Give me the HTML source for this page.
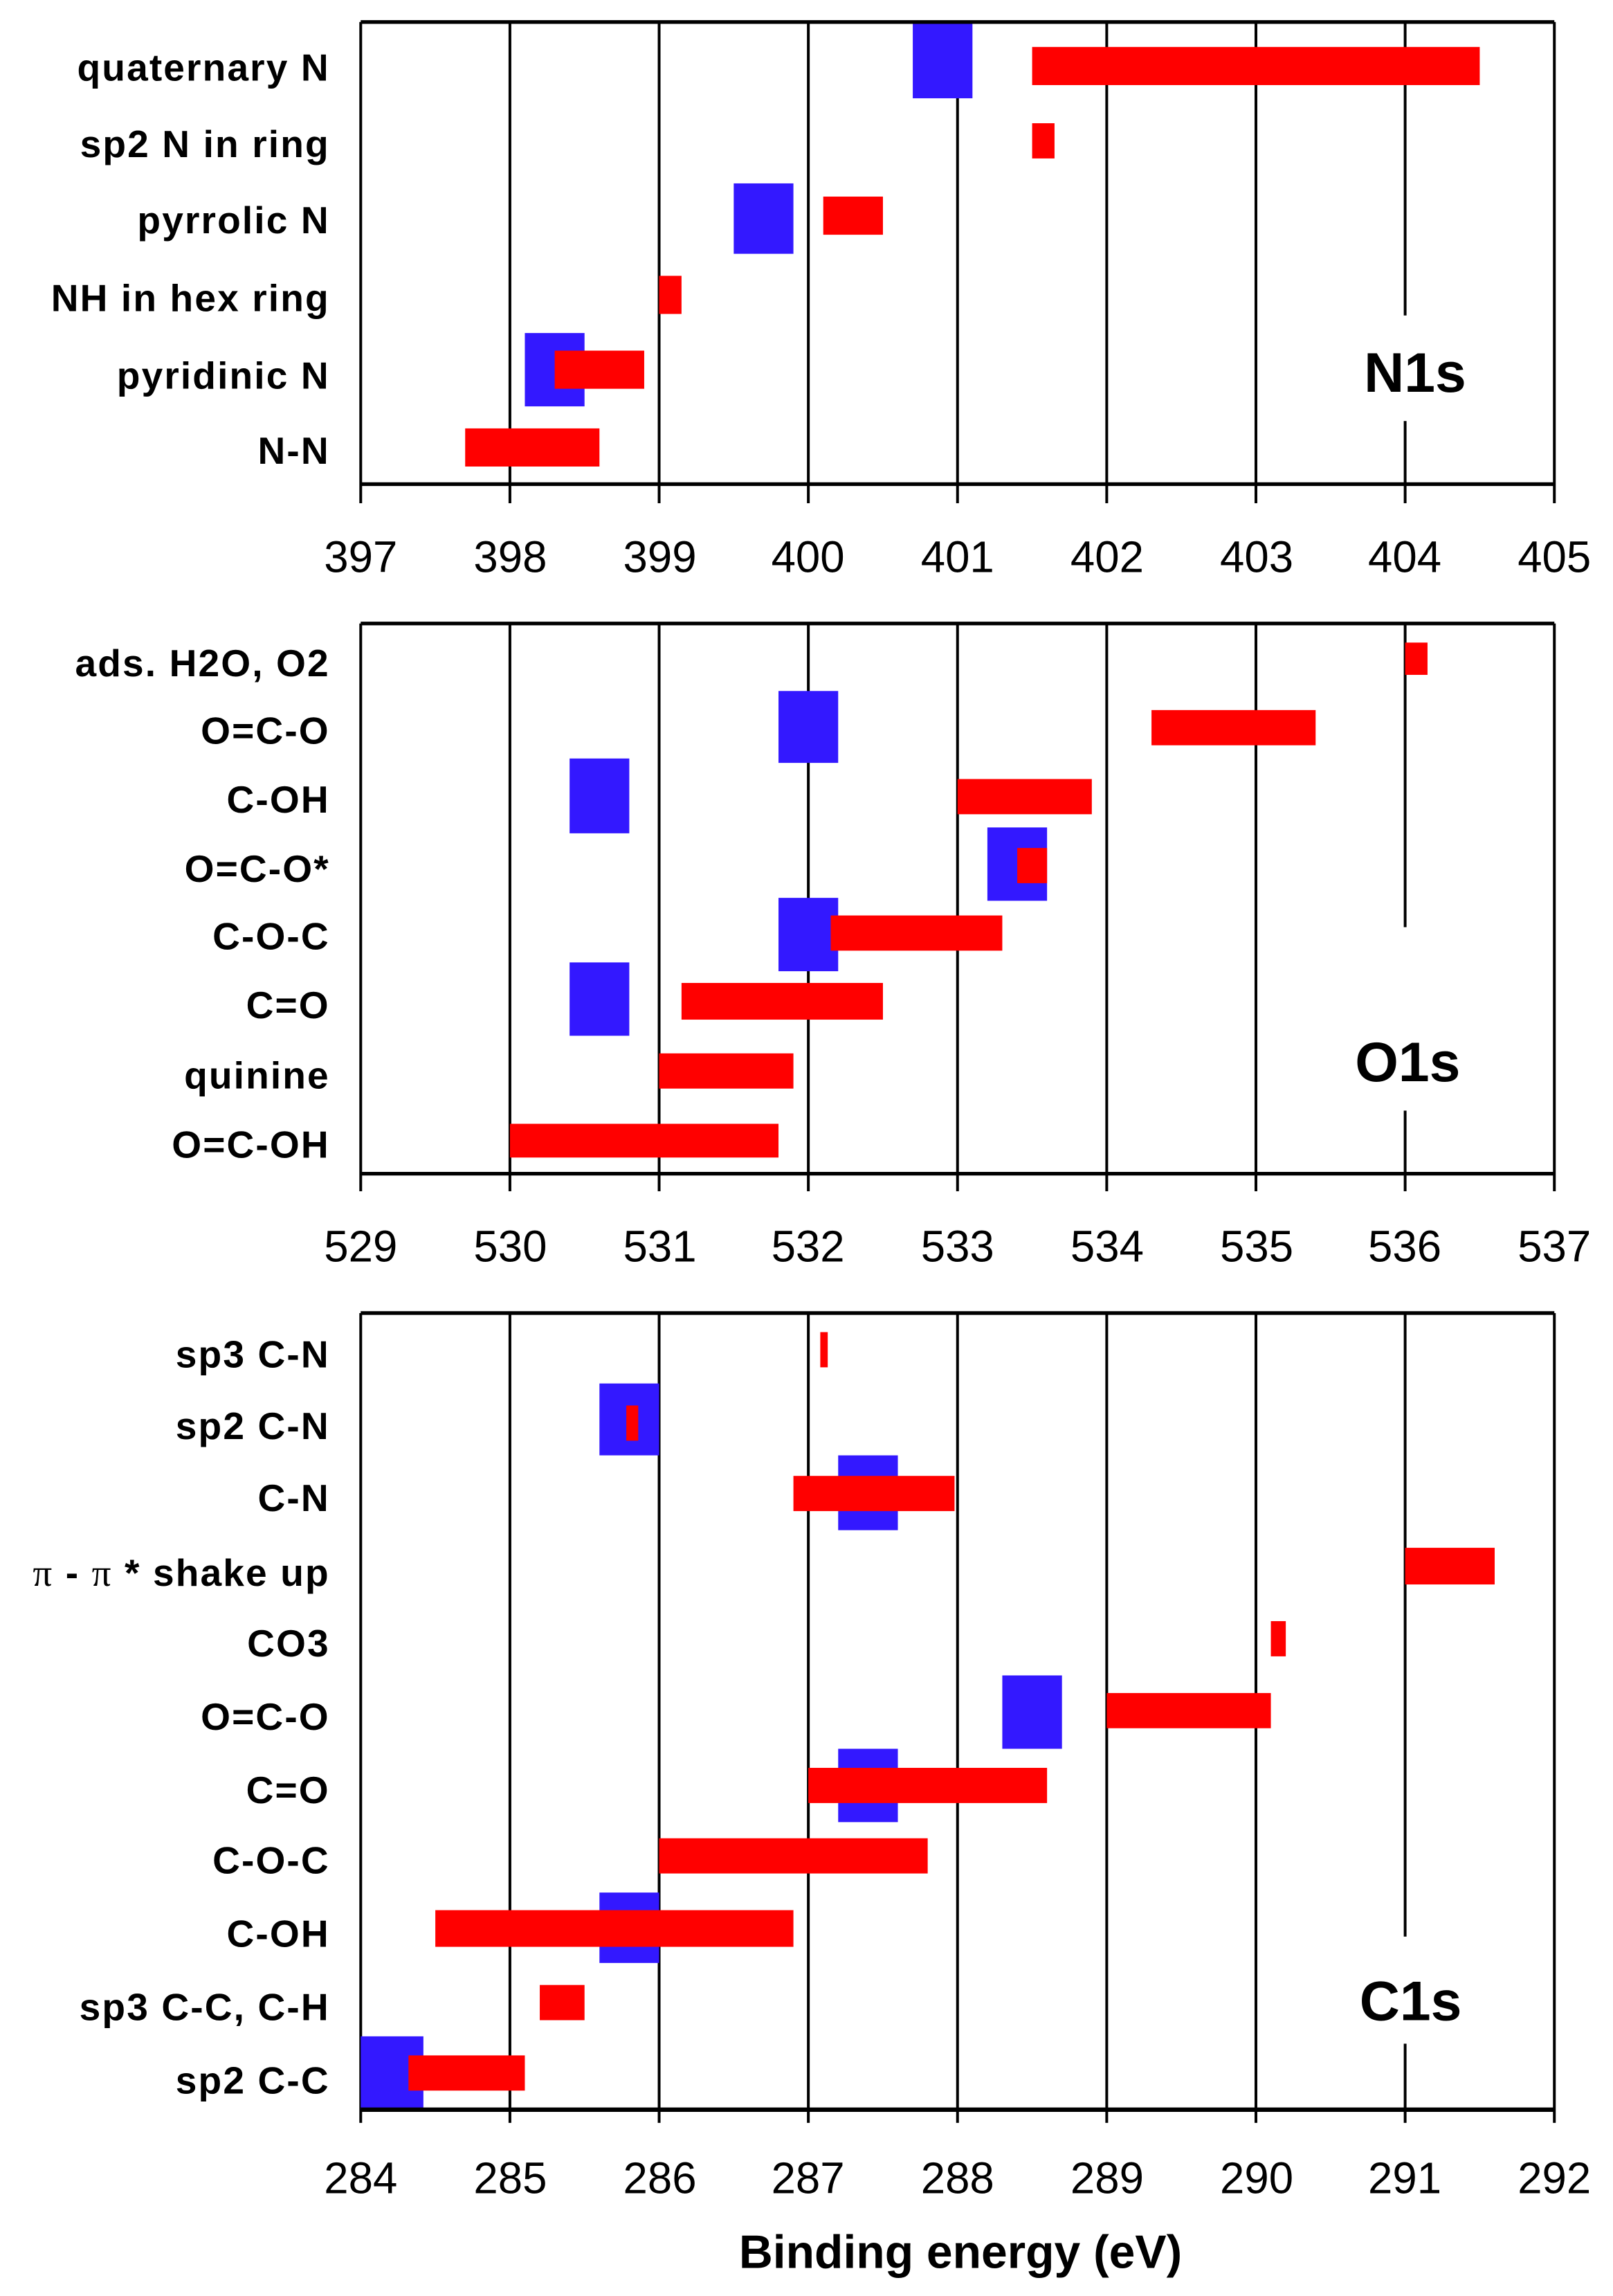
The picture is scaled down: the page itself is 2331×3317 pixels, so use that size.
<!DOCTYPE html>
<html><head><meta charset="utf-8"><style>
html,body{margin:0;padding:0;background:#fff;}
svg{display:block;}
text{font-family:"Liberation Sans",Arial,sans-serif;}
.lab{font-size:26px;font-weight:bold;text-anchor:end;letter-spacing:1px;}
.tk{font-size:30px;text-anchor:middle;}
.big{font-size:38px;font-weight:bold;text-anchor:middle;}
.g line{stroke:#000;stroke-width:4;}
</style></head><body>
<svg width="2331" height="3317" viewBox="0 0 1100 1565" preserveAspectRatio="none" xmlns="http://www.w3.org/2000/svg">
<rect width="1100" height="1565" fill="#fff"/>

<!-- N1s -->
<g transform="translate(246,0) scale(101.75,1)">
  <g class="g">
    <line x1="0" y1="15" x2="0" y2="343" vector-effect="non-scaling-stroke"/>
    <line x1="1" y1="15" x2="1" y2="343" vector-effect="non-scaling-stroke"/>
    <line x1="2" y1="15" x2="2" y2="343" vector-effect="non-scaling-stroke"/>
    <line x1="3" y1="15" x2="3" y2="343" vector-effect="non-scaling-stroke"/>
    <line x1="4" y1="15" x2="4" y2="343" vector-effect="non-scaling-stroke"/>
    <line x1="5" y1="15" x2="5" y2="343" vector-effect="non-scaling-stroke"/>
    <line x1="6" y1="15" x2="6" y2="343" vector-effect="non-scaling-stroke"/>
    <line x1="7" y1="15" x2="7" y2="215" vector-effect="non-scaling-stroke"/>
    <line x1="7" y1="287" x2="7" y2="343" vector-effect="non-scaling-stroke"/>
    <line x1="8" y1="15" x2="8" y2="343" vector-effect="non-scaling-stroke"/>
  </g>
  <rect x="3.7" y="15" width="0.4" height="52" fill="#3318ff"/>
  <rect x="4.5" y="32" width="3.0" height="26" fill="#f00"/>
  <rect x="4.5" y="84" width="0.15" height="24" fill="#f00"/>
  <rect x="2.5" y="125" width="0.4" height="48" fill="#3318ff"/>
  <rect x="3.1" y="134" width="0.4" height="26" fill="#f00"/>
  <rect x="2.0" y="188" width="0.15" height="26" fill="#f00"/>
  <rect x="1.1" y="227" width="0.4" height="50" fill="#3318ff"/>
  <rect x="1.3" y="239" width="0.6" height="26" fill="#f00"/>
  <rect x="0.7" y="292" width="0.9" height="26" fill="#f00"/>
</g>
<line x1="246" y1="15" x2="1060" y2="15" stroke="#000" stroke-width="2.5"/>
<line x1="246" y1="330" x2="1060" y2="330" stroke="#000" stroke-width="2.5"/>
<g class="lab">
<text x="225" y="55">quaternary  N</text>
<text x="225" y="107">sp2 N in ring</text>
<text x="225" y="159">pyrrolic N</text>
<text x="225" y="212">NH in hex ring</text>
<text x="225" y="265">pyridinic N</text>
<text x="225" y="316">N-N</text>
</g>
<g class="tk">
<text x="246" y="390">397</text><text x="348" y="390">398</text><text x="450" y="390">399</text>
<text x="551" y="390">400</text><text x="653" y="390">401</text><text x="755" y="390">402</text>
<text x="857" y="390">403</text><text x="958" y="390">404</text><text x="1060" y="390">405</text>
</g>
<text class="big" x="965" y="267">N1s</text>

<!-- O1s -->
<g transform="translate(246,0) scale(101.75,1)">
  <g class="g">
    <line x1="0" y1="425" x2="0" y2="812" vector-effect="non-scaling-stroke"/>
    <line x1="1" y1="425" x2="1" y2="812" vector-effect="non-scaling-stroke"/>
    <line x1="2" y1="425" x2="2" y2="812" vector-effect="non-scaling-stroke"/>
    <line x1="3" y1="425" x2="3" y2="812" vector-effect="non-scaling-stroke"/>
    <line x1="4" y1="425" x2="4" y2="812" vector-effect="non-scaling-stroke"/>
    <line x1="5" y1="425" x2="5" y2="812" vector-effect="non-scaling-stroke"/>
    <line x1="6" y1="425" x2="6" y2="812" vector-effect="non-scaling-stroke"/>
    <line x1="7" y1="425" x2="7" y2="632" vector-effect="non-scaling-stroke"/>
    <line x1="7" y1="757" x2="7" y2="812" vector-effect="non-scaling-stroke"/>
    <line x1="8" y1="425" x2="8" y2="812" vector-effect="non-scaling-stroke"/>
  </g>
  <rect x="7.0" y="438" width="0.15" height="22" fill="#f00"/>
  <rect x="2.8" y="471" width="0.4" height="49" fill="#3318ff"/>
  <rect x="5.3" y="484" width="1.1" height="24" fill="#f00"/>
  <rect x="1.4" y="517" width="0.4" height="51" fill="#3318ff"/>
  <rect x="4.0" y="531" width="0.9" height="24" fill="#f00"/>
  <rect x="4.2" y="564" width="0.4" height="50" fill="#3318ff"/>
  <rect x="4.4" y="578" width="0.2" height="24" fill="#f00"/>
  <rect x="2.8" y="612" width="0.4" height="50" fill="#3318ff"/>
  <rect x="3.15" y="624" width="1.15" height="24" fill="#f00"/>
  <rect x="1.4" y="656" width="0.4" height="50" fill="#3318ff"/>
  <rect x="2.15" y="670" width="1.35" height="25" fill="#f00"/>
  <rect x="2.0" y="718" width="0.9" height="24" fill="#f00"/>
  <rect x="1.0" y="766" width="1.8" height="23" fill="#f00"/>
</g>
<line x1="246" y1="425" x2="1060" y2="425" stroke="#000" stroke-width="2.5"/>
<line x1="246" y1="800" x2="1060" y2="800" stroke="#000" stroke-width="2.5"/>
<g class="lab">
<text x="225" y="461">ads. H2O,  O2</text>
<text x="225" y="507">O=C-O</text>
<text x="225" y="554">C-OH</text>
<text x="225" y="601">O=C-O*</text>
<text x="225" y="647">C-O-C</text>
<text x="225" y="694">C=O</text>
<text x="225" y="742">quinine</text>
<text x="225" y="789">O=C-OH</text>
</g>
<g class="tk">
<text x="246" y="860">529</text><text x="348" y="860">530</text><text x="450" y="860">531</text>
<text x="551" y="860">532</text><text x="653" y="860">533</text><text x="755" y="860">534</text>
<text x="857" y="860">535</text><text x="958" y="860">536</text><text x="1060" y="860">537</text>
</g>
<text class="big" x="960" y="737">O1s</text>

<!-- C1s -->
<g transform="translate(246,0) scale(101.75,1)">
  <g class="g">
    <line x1="0" y1="895" x2="0" y2="1447" vector-effect="non-scaling-stroke"/>
    <line x1="1" y1="895" x2="1" y2="1447" vector-effect="non-scaling-stroke"/>
    <line x1="2" y1="895" x2="2" y2="1447" vector-effect="non-scaling-stroke"/>
    <line x1="3" y1="895" x2="3" y2="1447" vector-effect="non-scaling-stroke"/>
    <line x1="4" y1="895" x2="4" y2="1447" vector-effect="non-scaling-stroke"/>
    <line x1="5" y1="895" x2="5" y2="1447" vector-effect="non-scaling-stroke"/>
    <line x1="6" y1="895" x2="6" y2="1447" vector-effect="non-scaling-stroke"/>
    <line x1="7" y1="895" x2="7" y2="1320" vector-effect="non-scaling-stroke"/>
    <line x1="7" y1="1393" x2="7" y2="1447" vector-effect="non-scaling-stroke"/>
    <line x1="8" y1="895" x2="8" y2="1447" vector-effect="non-scaling-stroke"/>
  </g>
  <rect x="3.08" y="908" width="0.05" height="24" fill="#f00"/>
  <rect x="1.6" y="943" width="0.4" height="49" fill="#3318ff"/>
  <rect x="1.78" y="958" width="0.08" height="24" fill="#f00"/>
  <rect x="3.2" y="992" width="0.4" height="51" fill="#3318ff"/>
  <rect x="2.9" y="1006" width="1.08" height="24" fill="#f00"/>
  <rect x="7.0" y="1055" width="0.6" height="25" fill="#f00"/>
  <rect x="6.1" y="1105" width="0.1" height="24" fill="#f00"/>
  <rect x="4.3" y="1142" width="0.4" height="50" fill="#3318ff"/>
  <rect x="5.0" y="1154" width="1.1" height="24" fill="#f00"/>
  <rect x="3.2" y="1192" width="0.4" height="50" fill="#3318ff"/>
  <rect x="3.0" y="1205" width="1.6" height="24" fill="#f00"/>
  <rect x="2.0" y="1253" width="1.8" height="24" fill="#f00"/>
  <rect x="1.6" y="1290" width="0.4" height="48" fill="#3318ff"/>
  <rect x="0.5" y="1302" width="2.4" height="25" fill="#f00"/>
  <rect x="1.2" y="1353" width="0.3" height="24" fill="#f00"/>
  <rect x="0.0" y="1388" width="0.42" height="50" fill="#3318ff"/>
  <rect x="0.32" y="1401" width="0.78" height="24" fill="#f00"/>
</g>
<line x1="246" y1="895" x2="1060" y2="895" stroke="#000" stroke-width="2.5"/>
<line x1="246" y1="1438" x2="1060" y2="1438" stroke="#000" stroke-width="3"/>
<g class="lab">
<text x="225" y="932">sp3 C-N</text>
<text x="225" y="981">sp2 C-N</text>
<text x="225" y="1030">C-N</text>
<text x="225" y="1081"><tspan font-weight="normal" font-family="Liberation Serif, serif">π</tspan> - <tspan font-weight="normal" font-family="Liberation Serif, serif">π</tspan> * shake  up</text>
<text x="225" y="1129">CO3</text>
<text x="225" y="1179">O=C-O</text>
<text x="225" y="1229">C=O</text>
<text x="225" y="1277">C-O-C</text>
<text x="225" y="1327">C-OH</text>
<text x="225" y="1377">sp3 C-C,  C-H</text>
<text x="225" y="1427">sp2 C-C</text>
</g>
<g class="tk">
<text x="246" y="1495">284</text><text x="348" y="1495">285</text><text x="450" y="1495">286</text>
<text x="551" y="1495">287</text><text x="653" y="1495">288</text><text x="755" y="1495">289</text>
<text x="857" y="1495">290</text><text x="958" y="1495">291</text><text x="1060" y="1495">292</text>
</g>
<text class="big" x="962" y="1377">C1s</text>
<text x="655" y="1546" style="font-size:32px;font-weight:bold;text-anchor:middle;">Binding energy (eV)</text>
</svg>
</body></html>
